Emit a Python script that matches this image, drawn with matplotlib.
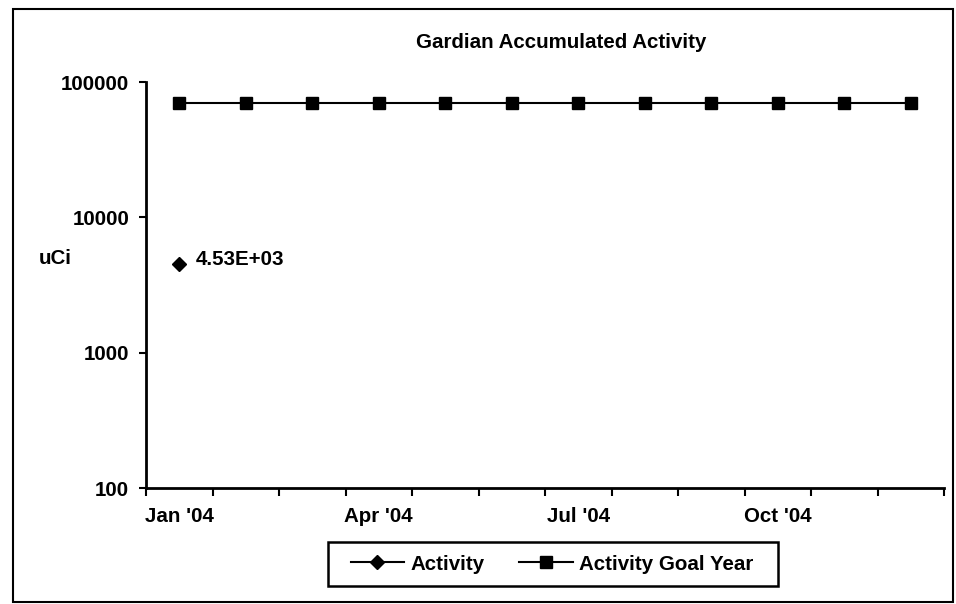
import matplotlib.pyplot as plt
from matplotlib.patches import Rectangle
import numpy as np

plt.rcParams['font.family'] = ['Liberation Sans', 'DejaVu Sans']
plt.rcParams['font.weight'] = 'bold'

months = ["Jan '04", "Feb '04", "Mar '04", "Apr '04", "May '04", "Jun '04",
          "Jul '04", "Aug '04", "Sep '04", "Oct '04", "Nov '04", "Dec '04"]
activity = [4530]                 # only January reported so far
goal_year = [70000] * 12          # yearly goal, flat across months
y_ticks = [100, 1000, 10000, 100000]

FS = 14.8

fig = plt.figure(figsize=(9.56, 6.04), dpi=100)
ax = fig.add_axes([146 / 956, 1 - 488 / 604, (944 - 146) / 956, (488 - 82) / 604])

x = np.arange(len(months))
ax.plot(x, goal_year, color='black', lw=1.5, marker='s', ms=8,
        mfc='black', mec='black', label='Activity Goal Year', zorder=3)
ax.plot(x[:len(activity)], activity, color='black', lw=1.5, marker='D', ms=7,
        mfc='black', mec='black', label='Activity', zorder=4)

ax.annotate('4.53E+03', (x[0], activity[0]), xytext=(12, 3),
            textcoords='offset points', fontsize=FS, va='center', ha='left')

ax.set_yscale('log')
ax.set_ylim(100, 100000)
ax.set_yticks(y_ticks)
ax.set_yticklabels([str(v) for v in y_ticks])
ax.minorticks_off()
ax.tick_params(axis='y', which='major', length=5, width=1.5, labelsize=FS, pad=7)

ax.set_xlim(-0.5, len(months) - 0.5)
ax.set_xticks(np.arange(-0.5, len(months), 1.0))
ax.set_xticklabels([])
ax.set_xticks(x[::3], minor=True)
ax.set_xticklabels([months[i] for i in x[::3]], minor=True)
ax.tick_params(axis='x', which='major', length=6, width=1.5, direction='out')
ax.tick_params(axis='x', which='minor', length=0, labelsize=FS, pad=14)

for side in ('top', 'right'):
    ax.spines[side].set_visible(False)
for side in ('left', 'bottom'):
    ax.spines[side].set_linewidth(2)

fig.text(561 / 956, 1 - 42 / 604, 'Gardian Accumulated Activity',
         ha='center', va='center', fontsize=FS)
fig.text(55 / 956, 1 - 258 / 604, 'uCi', ha='center', va='center', fontsize=FS)

handles, labels = ax.get_legend_handles_labels()
leg = fig.legend(handles[::-1], labels[::-1], ncol=2, loc='center',
                 bbox_to_anchor=(552 / 956, 1 - 564 / 604), fontsize=FS,
                 frameon=False, handlelength=2.6,
                 handletextpad=0.3, columnspacing=1.7, borderpad=0.35)

# legend box
fig.patches.append(Rectangle((328 / 956, 1 - 586 / 604), 450 / 956, 44 / 604,
                             transform=fig.transFigure, fill=False,
                             edgecolor='black', lw=1.8))

# outer chart border
fig.patches.append(Rectangle((13 / 956, 2 / 604), 940 / 956, 593 / 604,
                             transform=fig.transFigure, fill=False,
                             edgecolor='black', lw=1.5))

fig.savefig('out.png', dpi=100)
